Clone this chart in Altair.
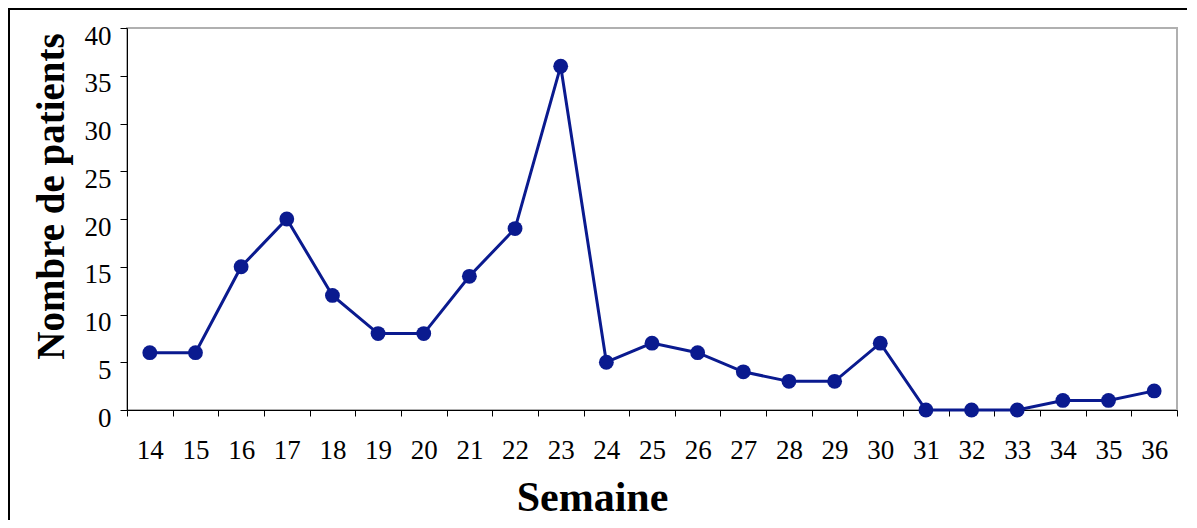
import altair as alt
import pandas as pd

weeks = list(range(14, 37))
patients = [6, 6, 15, 20, 12, 8, 8, 14, 19, 36, 5, 7, 6, 4, 3, 3, 7, 0, 0, 0, 1, 1, 2]
y_ticks = [0, 5, 10, 15, 20, 25, 30, 35, 40]
x_ticks = [w - 0.5 for w in weeks] + [weeks[-1] + 0.5]

df = pd.DataFrame({"Semaine": weeks, "Patients": patients})

W, H = 1050, 382
FONT = "Liberation Serif"
COLOR = "#0a1a8f"

x_enc = alt.X(
    "Semaine:Q",
    scale=alt.Scale(domain=[13.5, 36.5], nice=False, zero=False),
    axis=alt.Axis(
        values=x_ticks,
        labelExpr="datum.value > 36 ? '' : format(datum.value + 0.5, 'd')",
        labelOffset=W / 23 / 2,
        labelPadding=21,
        labelFontSize=27,
        labelFont=FONT,
        labelColor="black",
        tickSize=6,
        tickColor="black",
        domainColor="black",
        grid=False,
        title="Semaine",
        titleFont=FONT,
        titleFontSize=42,
        titleFontWeight="bold",
        titleX=465,
        titleY=100,
        titleBaseline="alphabetic",
        titleAlign="center",
        titleColor="black",
        labelFlush=False,
        labelOverlap=False,
    ),
)

y_enc = alt.Y(
    "Patients:Q",
    scale=alt.Scale(domain=[0, 40], nice=False),
    axis=alt.Axis(
        values=y_ticks,
        labelFontSize=27,
        labelFont=FONT,
        labelColor="black",
        labelOffset=8,
        labelPadding=9,
        tickSize=7,
        tickColor="black",
        domainColor="black",
        grid=False,
        title="Nombre de patients",
        titleFont=FONT,
        titleFontSize=39,
        titleFontWeight="bold",
        titleAngle=-90,
        titleX=-64,
        titleY=168,
        titleBaseline="alphabetic",
        titleAlign="center",
        titleColor="black",
        labelFlush=False,
    ),
)

base = alt.Chart(df)
line = base.mark_line(color=COLOR, strokeWidth=3).encode(x=x_enc, y=y_enc)
pts = base.mark_point(color=COLOR, filled=True, opacity=1, size=220, shape="circle").encode(
    x="Semaine:Q", y="Patients:Q"
)

frame_src = alt.Chart(pd.DataFrame({"k": [0]}))
frame_top = frame_src.mark_rule(color="black", strokeWidth=2, clip=False).encode(
    x=alt.value(-119), x2=alt.value(W + 30), y=alt.value(-19)
)
frame_left = frame_src.mark_rule(color="black", strokeWidth=2, clip=False).encode(
    x=alt.value(-118), y=alt.value(-20), y2=alt.value(H + 130)
)

chart = (
    alt.layer(line, pts, frame_top, frame_left)
    .properties(
        width=W,
        height=H,
        autosize=alt.AutoSizeParams(type="none"),
        padding={"left": 119, "top": 20, "right": 10, "bottom": 110},
        background="white",
    )
    .configure_view(stroke="#b0b0b0", strokeWidth=2)
)

chart.save("out.html", embed_options={"renderer": "svg", "actions": False})
